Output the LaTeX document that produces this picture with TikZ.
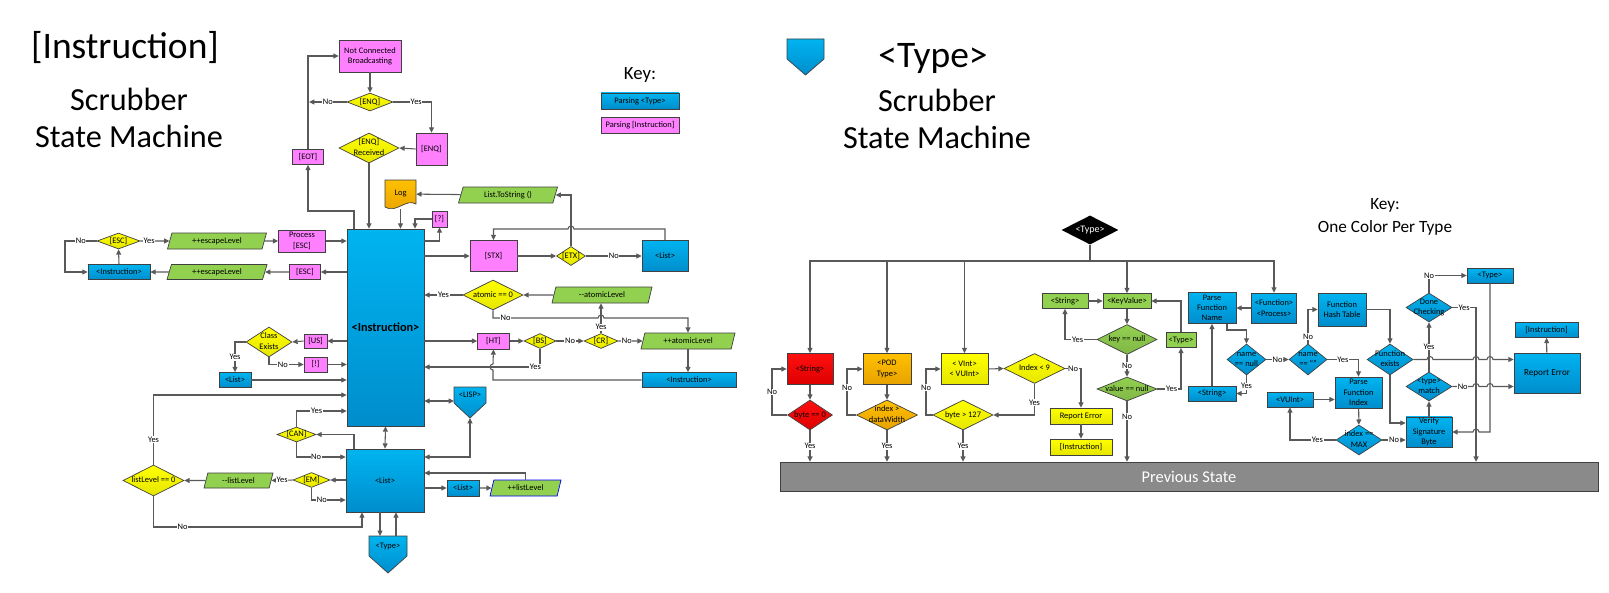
\documentclass[tikz,border=0pt]{standalone}
\usepackage{fontspec}
\setmainfont{Carlito}
\usetikzlibrary{arrows.meta,shapes.geometric}

\definecolor{linegray}{HTML}{595959}
\definecolor{edgegray}{HTML}{404040}
\definecolor{typetop}{HTML}{00B4F0}
\definecolor{typebot}{HTML}{008DCC}
\definecolor{instpink}{HTML}{FF80FF}
\definecolor{asktop}{HTML}{FFFF00}
\definecolor{askbot}{HTML}{E6E600}
\definecolor{iogreen}{HTML}{92D050}
\definecolor{logtop}{HTML}{FFC000}
\definecolor{logbot}{HTML}{E8A200}
\definecolor{strtop}{HTML}{FF1010}
\definecolor{strbot}{HTML}{DD0000}
\definecolor{bargray}{HTML}{8A8A8A}

\tikzset{
  sz/.style 2 args={minimum width=#1*0.03cm, minimum height=#2*0.03cm},
  smallfont/.style={font=\fontsize{7.2}{8.8}\selectfont},
  flow/.style={draw=linegray, line width=0.9pt, -{Triangle[length=4.5pt,width=4.2pt]}},
  both/.style={flow, {Triangle[length=4.5pt,width=4.2pt]}-{Triangle[length=4.5pt,width=4.2pt]}},
  plain/.style={draw=linegray, line width=0.9pt},
  yn/.style={smallfont, fill=white, inner sep=0.6pt},
  box/.style={rectangle, draw=edgegray, line width=0.6pt, inner sep=1pt, smallfont, align=center},
  typebox/.style={box, top color=typetop, bottom color=typebot},
  instbox/.style={box, fill=instpink},
  ask/.style={diamond, draw=edgegray, line width=0.6pt, inner sep=0pt, smallfont, top color=asktop, bottom color=askbot},
  askblue/.style={ask, top color=typetop, bottom color=typebot},
  io/.style={trapezium, trapezium left angle=65, trapezium right angle=115, trapezium stretches body,
    draw=edgegray, line width=0.6pt, fill=iogreen, inner sep=1pt, smallfont},
}
\newcommand{\dlabel}[1]{\makebox[0pt]{\begin{tabular}{@{}c@{}}#1\end{tabular}}}

\begin{document}
\begin{tikzpicture}[x=0.03cm, y=-0.03cm]
\useasboundingbox (0,0) rectangle (1609,593);

% Titles and keys
\node[font=\fontsize{32}{36}\selectfont] (instTitle) at (125,48) {[Instruction]};
\node[font=\fontsize{27.5}{31.5}\selectfont, align=center] (instSub) at (129,117.5) {Scrubber\\State Machine};
\node[font=\fontsize{16}{19}\selectfont] (keyL) at (640,75) {Key:};
\node[typebox, sz={78}{16}] (keyType) at (640,101) {Parsing <Type>};
\node[instbox, sz={78}{16}] (keyInst) at (640,125) {Parsing [Instruction]};

\path[draw=edgegray, line width=0.6pt, top color=typetop, bottom color=typebot]
  (787,39) -- (824,39) -- (824,59) -- (805.5,75) -- (787,59) -- cycle;
\node[font=\fontsize{32}{36}\selectfont] (typeTitle) at (933,58) {<Type>};
\node[font=\fontsize{27.5}{31.5}\selectfont, align=center] (typeSub) at (937,118.5) {Scrubber\\State Machine};
\node[font=\fontsize{14.7}{19.5}\selectfont, align=center] (keyR) at (1385,216.5) {Key:\\One Color Per Type};

% [Instruction] machine
\node[instbox, sz={62}{32}] (ncb) at (370,56) {Not Connected\\Broadcasting};
\node[ask, sz={46}{18}] (enqQ) at (370,102) {\dlabel{[ENQ]}};
\node[instbox, sz={31}{32}] (enqB) at (431.5,149) {[ENQ]};
\node[ask, sz={60}{30}] (enqR) at (369,148) {\dlabel{[ENQ]\\Received}};
\node[instbox, sz={31}{15}] (eot) at (308,157) {[EOT]};

\path[draw=edgegray, line width=0.6pt, top color=logtop, bottom color=logbot]
  (385,180) -- (416,180) -- (416,204) .. controls (406,198) and (396,214) .. (385,207) -- cycle;
\node[smallfont, sz={31}{30}] (log) at (400.5,194) {Log};
\node[io, sz={99}{16}] (tostr) at (508,195) {List.ToString ()};
\node[instbox, sz={15}{16}] (qm) at (439.5,219) {[?]};

\node[typebox, sz={77}{197}, font=\fontsize{10.5}{12}\selectfont\bfseries] (instr) at (385.5,327.5) {<Instruction>};

\node[ask, sz={43}{16}] (escQ) at (118.5,241) {\dlabel{[ESC]}};
\node[io, sz={99}{16}] (escUp) at (217,241) {++escapeLevel};
\node[instbox, sz={47}{22}] (procEsc) at (302,241) {Process\\{}[ESC]};
\node[instbox, sz={31}{15}] (escB) at (305,272) {[ESC]};
\node[io, sz={100}{15}] (escDn) at (217,272) {++escapeLevel};
\node[typebox, sz={62}{15}] (instrA) at (119,272) {<Instruction>};

\node[instbox, sz={47}{31}] (stx) at (493.5,256) {[STX]};
\node[ask, sz={29}{19}] (etx) at (571,256) {\dlabel{[ETX]}};
\node[typebox, sz={46}{31}] (listA) at (665,256) {<List>};
\node[ask, sz={60}{30}] (atom) at (493,295) {\dlabel{atomic == 0}};
\node[io, sz={100}{16}] (atomDn) at (602,295) {-{}-atomicLevel};
\node[instbox, sz={32}{16}] (ht) at (493.5,341) {[HT]};
\node[ask, sz={32}{15}] (bs) at (540,341) {\dlabel{[BS]}};
\node[ask, sz={34}{15}] (cr) at (601,341) {\dlabel{[CR]}};
\node[io, sz={94}{16}] (atomUp) at (688,341) {++atomicLevel};
\node[typebox, sz={94}{15}] (instrB) at (689,380) {<Instruction>};

\node[ask, sz={46}{30}] (classQ) at (269,342) {\dlabel{Class\\Exists}};
\node[instbox, sz={23}{14}] (us) at (315.5,341) {[US]};
\node[instbox, sz={23}{15}] (bang) at (315.5,364.5) {[!]};
\node[typebox, sz={32}{15}] (listB) at (235,380) {<List>};

\path[draw=edgegray, line width=0.6pt, top color=typetop, bottom color=typebot]
  (454,387) -- (486,387) -- (486,403) -- (470,418) -- (454,403) -- cycle;
\node[smallfont] (lisp) at (470,395) {<LISP>};
\coordinate (lispW) at (454,401);
\coordinate (lispTip) at (470,418);

\node[ask, sz={39}{15}] (can) at (296.5,434.5) {\dlabel{[CAN]}};
\node[typebox, sz={78}{63}] (list) at (385,480.5) {<List>};
\node[ask, sz={37}{15}] (em) at (311.5,480) {\dlabel{[EM]}};
\node[io, sz={69}{15}] (llDn) at (238.5,480.5) {-{}-listLevel};
\node[ask, sz={61}{31}] (llQ) at (153.5,480.5) {\dlabel{listLevel == 0}};
\node[typebox, sz={32}{16}] (listC) at (463,488) {<List>};
\node[io, sz={71}{16}, draw=blue] (llUp) at (525.5,488) {++listLevel};

\path[draw=edgegray, line width=0.6pt, top color=typetop, bottom color=typebot]
  (369,536) -- (407,536) -- (407,556) -- (388,573) -- (369,556) -- cycle;
\node[smallfont] (typeOut) at (388,546) {<Type>};
\coordinate (typeOutTop) at (388,536);

% top loop
\draw[flow] (ncb) -- (enqQ);
\draw[flow] (enqQ.west) -- node[yn]{No} (309,102);
\draw[flow] (enqQ.east) -- node[yn, pos=0.6]{Yes} (enqQ.east -| enqB) -- (enqB.north);
\draw[flow] (enqB.west) -- (enqR.east);
\draw[flow] (enqR.south) -- (enqR.south |- instr.north);
\draw[flow] (instr.north -| 354,0) -- (354,211) -| (eot.south);
\draw[flow] (eot.north) |- (ncb.west);

% log and list
\draw[flow] (log.south) -- (log.south |- instr.north);
\draw[flow] (tostr) -- (log);
\draw[flow] (etx.north) |- (tostr.east);
\draw[flow] (instr.east |- 0,241) -| (qm.south);
\draw[flow] (qm.west) -| (instr.north -| 415,0);
\draw[flow] (instr.east |- stx) -- (stx.west);
\draw[flow] (stx) -- (etx);
\draw[flow] (etx.east) -- node[yn]{No} (listA.west);
\draw[flow] (listA.north) |- (574,229) arc[start angle=0, end angle=180, radius=0.09cm] -| (stx.north);

% escape
\draw[flow] (escQ.east) -- node[yn, pos=0.3]{Yes} (escUp.west);
\draw[flow] (escUp.east) -- (procEsc.west);
\draw[flow] (procEsc.east) -- (instr.west |- procEsc.east);
\draw[flow] (instr.west |- escB) -- (escB.east);
\draw[flow] (escB.west) -- (escDn.east);
\draw[flow] (escDn.west) -- (instrA.east);
\draw[flow] (instrA.north) -- (escQ.south);
\draw[flow] (escQ.west) -- node[yn]{No} (65,241) |- (instrA.west);

% atomic
\draw[flow] (atom.west) -- node[yn]{Yes} (instr.east |- atom);
\draw[flow] (atomDn.west) -- (atom.east);
\draw[flow] (atom.south) -- (493,318) -- node[yn, pos=0.12]{No} (598,318)
  arc[start angle=180, end angle=0, radius=0.09cm] -| (atomUp.north);
\draw[flow] (instr.east |- ht) -- (ht.west);
\draw[flow] (ht) -- (bs);
\draw[flow] (bs.east) -- node[yn]{No} (cr.west);
\draw[flow] (cr.east) -- node[yn, pos=0.35]{No} (atomUp.west);
\draw[flow] (cr.north) -- node[yn, pos=0.2]{Yes} (cr.north |- atomDn.south);
\draw[flow] (atomUp.south) -- (atomUp.south |- instrB.north);
\draw[flow] (bs.south) |- node[yn, pos=0.52]{Yes} (instr.east |- 0,367);
\draw[flow] (instrB.west) -| (493,370) arc[start angle=270, end angle=90, radius=0.09cm] -- (ht.south);

% class exists
\draw[flow] (instr.west |- us) -- (us.east);
\draw[flow] (us.west) -- (classQ.east);
\draw[flow] (classQ.west) -| node[yn, pos=0.75]{Yes} (listB.north);
\draw[flow] (classQ.south) |- node[yn, pos=0.7]{No} (bang.west);
\draw[flow] (bang.east) -- (instr.west |- bang);
\draw[flow] (listB.east) -- (instr.west |- listB);

% list
\draw[flow] (llQ.north) |- node[yn, pos=0.18]{Yes} (instr.west |- 0,395);
\draw[flow] (llQ.south) -- (153.5,527) -- node[yn, pos=0.14]{No} (362,527) -- (list.south -| 362,0);
\draw[flow] (em.west) -- node[yn]{Yes} (llDn.east);
\draw[flow] (llDn.west) -- (llQ.east);
\draw[flow] (list.west |- em) -- (em.east);
\draw[flow] (em.south) |- node[yn, pos=0.65]{No} (list.west |- 0,500);
\draw[flow] (list.north -| 354,0) |- (can.east);
\draw[flow] (can.north) |- node[yn, pos=0.7]{Yes} (instr.west |- 0,411);
\draw[flow] (can.south) |- node[yn, pos=0.7]{No} (list.west |- 0,457);
\draw[both] (instr.south) -- (list.north);
\draw[both] (instr.east |- lispW) -- (lispW);
\draw[both] (lispTip) |- (list.east |- 0,457);
\draw[flow] (llUp.north) |- (list.east |- 0,473);
\draw[flow] (list.east |- listC) -- (listC.west);
\draw[flow] (listC.east) -- (llUp.west);
\draw[flow] (list.south -| 380,0) -- (typeOutTop -| 380,0);
\draw[flow] (typeOutTop -| 396,0) -- (list.south -| 396,0);

% <Type> machine
\node[diamond, fill=black, sz={57}{29}, inner sep=0pt, text=white, font=\fontsize{8.5}{10}\selectfont] (typeD) at (1090,230) {\dlabel{<Type>}};
\coordinate (hub) at (1090,261);

\node[box, top color=strtop, bottom color=strbot, sz={46}{31}] (strR) at (810,369) {<String>};
\node[ask, top color=strtop, bottom color=strbot, sz={45}{30}] (byte0) at (810,415) {\dlabel{byte == 0}};
\node[box, top color=logtop, bottom color=logbot, sz={48}{31}] (pod) at (887,369) {<POD\\Type>};
\node[ask, top color=logtop, bottom color=logbot, sz={61}{30}] (idxW) at (887,415) {\dlabel{index >\\dataWidth}};
\node[box, top color=asktop, bottom color=askbot, sz={47}{31}] (vint) at (964.5,369) {< VInt>\\< VUInt>};
\node[ask, sz={61}{30}] (idx9) at (1034.5,368.5) {\dlabel{Index < 9}};
\node[ask, sz={60}{30}] (b127) at (963,415) {\dlabel{byte > 127}};
\node[box, top color=asktop, bottom color=askbot, sz={62}{16}] (repY) at (1081,416) {Report Error};
\node[box, top color=asktop, bottom color=askbot, sz={62}{16}] (instY) at (1081,447) {[Instruction]};

\node[box, fill=iogreen, sz={46}{15}] (strG) at (1065,301) {<String>};
\node[box, fill=iogreen, sz={48}{15}] (kv) at (1127,301) {<KeyValue>};
\node[ask, top color=iogreen, bottom color=iogreen!88!black, sz={60}{30}] (keyQ) at (1127,339.5) {\dlabel{key == null}};
\node[ask, top color=iogreen, bottom color=iogreen!88!black, sz={60}{24}] (valQ) at (1127,389) {\dlabel{value == null}};
\node[box, fill=iogreen, sz={30}{15}] (typeG) at (1181,340) {<Type>};

\node[typebox, sz={45}{30}] (fproc) at (1274,308) {<Function>\\<Process>};
\node[typebox, sz={48}{31}] (pfn) at (1212,308) {Parse\\Function\\Name};
\node[typebox, sz={48}{15}] (strB) at (1212,393.5) {<String>};
\node[askblue, sz={39}{31}] (nameN) at (1246.5,359.5) {\dlabel{name\\== null}};
\node[askblue, sz={38}{31}] (nameE) at (1308,359.5) {\dlabel{name\\== ``''}};
\node[typebox, sz={48}{33}] (fht) at (1342,309.5) {Function\\Hash Table};
\node[typebox, sz={47}{31}] (pfi) at (1358.5,392.5) {Parse\\Function\\Index};
\node[typebox, sz={46}{15}] (vuint) at (1290,399.5) {<VUInt>};
\node[askblue, sz={46}{30}] (idxM) at (1359,440) {\dlabel{index ==\\MAX}};
\node[askblue, sz={46}{31}] (fex) at (1390,359.5) {\dlabel{Function\\exists}};
\node[typebox, sz={46}{30}] (vsb) at (1429,432) {Verify\\Signature\\Byte};
\node[askblue, sz={46}{29}] (tmatch) at (1429,386.5) {\dlabel{<type>\\match}};
\node[askblue, sz={46}{29}] (done) at (1429,307.5) {\dlabel{Done\\Checking}};
\node[typebox, sz={46}{15}] (typeB) at (1490,275.5) {<Type>};
\node[typebox, sz={66}{40}, font=\fontsize{7.8}{9}\selectfont] (rep) at (1547,373) {Report Error};
\node[typebox, sz={63}{15}] (instB) at (1546.5,330) {[Instruction]};

\node[draw=edgegray, fill=bargray, sz={818}{29}, text=white, font=\fontsize{14}{16}\selectfont] (bar) at (1189,476.5) {Previous State};

% fan out
\draw[plain] (typeD.south) -- (hub);
\draw[flow] (hub) -| (strR.north);
\draw[flow] (hub) -| (pod.north);
\draw[flow] (hub) -| (vint.north);
\draw[flow] (hub) -| (kv.north);
\draw[flow] (hub) -| (fproc.north);

% plain types
\draw[flow] (strR) -- (byte0);
\draw[flow] (byte0.south) -- node[yn]{Yes} (byte0.south |- bar.north);
\draw[flow] (byte0.west) -- (772,415) |- node[yn, pos=0.25]{No} (strR.west);
\draw[flow] (pod) -- (idxW);
\draw[flow] (idxW.south) -- node[yn]{Yes} (idxW.south |- bar.north);
\draw[flow] (idxW.west) -- (847,415) |- node[yn, pos=0.3]{No} (pod.west);
\draw[flow] (vint.east) -- (idx9.west);
\draw[flow] (idx9.south) |- node[yn, pos=0.3]{Yes} (b127.east);
\draw[flow] (b127.west) -- (926,415) |- node[yn, pos=0.3]{No} (vint.west);
\draw[flow] (b127.south) -- node[yn]{Yes} (b127.south |- bar.north);
\draw[flow] (idx9.east) -| node[yn, pos=0.25]{No} (repY.north);
\draw[flow] (repY) -- (instY);

% key value
\draw[flow] (strG) -- (kv);
\draw[flow] (kv) -- (keyQ);
\draw[flow] (keyQ.west) -| node[yn, pos=0.3]{Yes} (strG.south);
\draw[flow] (keyQ.south) -- node[yn]{No} (valQ.north);
\draw[flow] (valQ.east) -| node[yn, pos=0.3]{Yes} (typeG.south);
\draw[flow] (typeG.north) |- (kv.east);
\draw[flow] (valQ.south) -- node[yn, pos=0.25]{No} (valQ.south |- bar.north);

% function
\draw[flow] (fproc) -- (pfn);
\draw[flow] (pfn.south -| 1227,0) |- (1246.5,330) -- (nameN.north);
\draw[flow] (nameN.south) |- node[yn, pos=0.3]{Yes} (strB.east);
\draw[flow] (strB) -- (pfn);
\draw[flow] (nameN.east) -- node[yn]{No} (nameE.west);
\draw[flow] (nameE.north) |- node[yn, pos=0.1]{No} (fht.west);
\draw[flow] (nameE.east) -| node[yn, pos=0.25]{Yes} (pfi.north);
\draw[flow] (fht.east) -| (fex.north);
\draw[flow] (fex.east) -- (1427,359.5) arc[start angle=180, end angle=0, radius=0.09cm]
  -- (1473,359.5) arc[start angle=180, end angle=0, radius=0.09cm]
  -- (1487,359.5) arc[start angle=180, end angle=0, radius=0.09cm] -- (rep.west |- 0,359.5);
\draw[flow] (fex.south) |- (vsb.west |- 0,423);
\draw[flow] (vuint.east) -- (pfi.west |- vuint);
\draw[flow] (pfi) -- (idxM);
\draw[flow] (idxM.west) -| node[yn, pos=0.2]{Yes} (vuint.south);
\draw[flow] (idxM.east) -- node[yn]{No} (vsb.west |- idxM);
\draw[flow] (vsb) -- (tmatch);
\draw[flow] (tmatch.east) -- node[yn]{No} (1473,386.5) arc[start angle=180, end angle=0, radius=0.09cm]
  -- (1487,386.5) arc[start angle=180, end angle=0, radius=0.09cm] -- (rep.west |- 0,386.5);
\draw[flow] (tmatch) -- node[yn]{Yes} (done);
\draw[flow] (done.north) |- node[yn, pos=0.5]{No} (typeB.west);
\draw[flow] (typeB.south) |- (1479,432) arc[start angle=0, end angle=180, radius=0.09cm] -- (vsb.east |- 0,432);
\draw[flow] (done.east) -- node[yn]{Yes} (1476,307.5) -- (1476,0 |- bar.north);
\draw[flow] (rep) -- (instB);

\end{tikzpicture}
\end{document}
